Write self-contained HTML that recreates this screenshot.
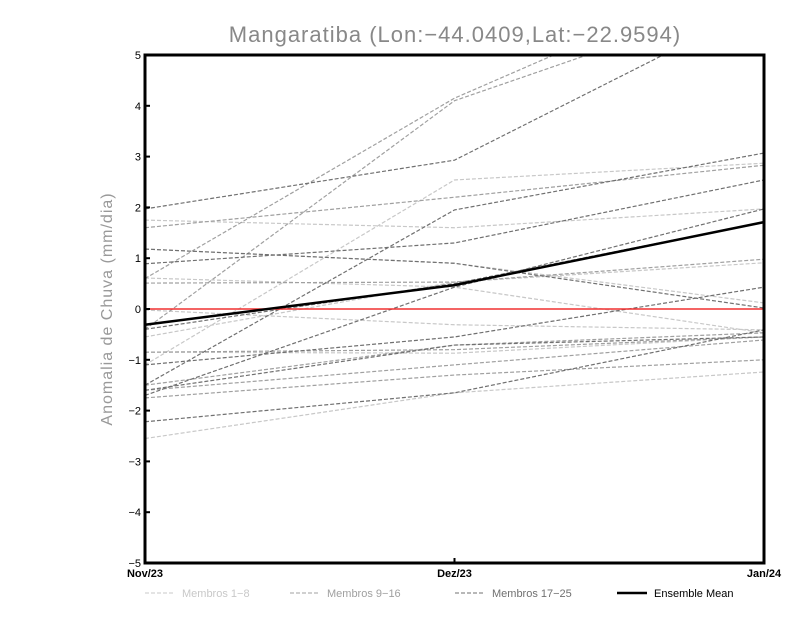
<!DOCTYPE html>
<html><head><meta charset="utf-8"><style>
body{margin:0;background:#fff;}
svg{display:block;font-family:"Liberation Sans",sans-serif;}
</style></head><body>
<svg id="chart" width="800" height="618" viewBox="0 0 800 618">
<text x="455" y="42" text-anchor="middle" font-size="22" fill="#888" letter-spacing="1">Mangaratiba (Lon:−44.0409,Lat:−22.9594)</text>
<text transform="translate(112,309) rotate(-90)" text-anchor="middle" font-size="16" fill="#999" letter-spacing="1">Anomalia de Chuva (mm/dia)</text>
<defs><clipPath id="pc"><rect x="145" y="55" width="619" height="508"/></clipPath></defs>
<g id="members" clip-path="url(#pc)"></g>
<g id="axes"></g>
<g id="legend"></g>
</svg>
<script>
const categories=["Nov/23","Dez/23","Jan/24"];
const yTicks=[-5,-4,-3,-2,-1,0,1,2,3,4,5];
const m1_8=[[1.75,1.6,1.97],[-0.02,-0.31,-0.41],[-0.55,0.53,0.91],[-1.1,2.54,2.87],[1.18,0.9,0.12],[-2.55,-1.65,-1.24],[-0.85,-0.87,-0.55],[0.61,0.43,-0.47]];
const m9_16=[[0.6,4.15,6.8],[-0.4,4.1,6.2],[1.6,2.2,2.83],[0.51,0.53,0.98],[-1.6,-1.1,-0.61],[-1.5,-0.71,-0.47],[-0.85,-0.8,-0.55],[-1.75,-1.3,-1.0]];
const m17_25=[[1.97,2.93,6.0],[0.89,1.3,2.54],[-1.5,1.95,3.07],[-1.7,0.43,1.97],[-1.1,-0.55,0.43],[-2.22,-1.65,-0.41],[1.18,0.9,0.02],[-1.6,-0.71,-0.55],[-0.4,0.5,1.71]];
const ensembleMean=[-0.31,0.47,1.71];
const NS="http://www.w3.org/2000/svg";
const X0=145,X1=764,Y0=563,Y1=55;
function xs(i){return X0+(X1-X0)*i/(categories.length-1);}
function ys(v){return Y0-(v+5)/10*(Y0-Y1);}
function mk(tag,attrs,parent){const e=document.createElementNS(NS,tag);for(const k in attrs)e.setAttribute(k,attrs[k]);parent.appendChild(e);return e;}
const mg=document.getElementById('members');
function drawGroup(arr,color,name){
 arr.forEach((s,j)=>{
  const p=mk('polyline',{points:s.map((v,i)=>xs(i)+','+ys(v)).join(' '),fill:'none',stroke:color,'stroke-width':1.2,'stroke-dasharray':'4,2'},mg);
  
  
 });
}
drawGroup(m1_8,'#c8c8c8','member-1-8');
drawGroup(m9_16,'#a0a0a0','member-9-16');
drawGroup(m17_25,'#707070','member-17-25');
const ax=document.getElementById('axes');
const zl=mk('line',{x1:X0,x2:X1,y1:ys(0),y2:ys(0),stroke:'#f03030','stroke-width':1.5},ax);


const em=mk('polyline',{points:ensembleMean.map((v,i)=>xs(i)+','+ys(v)).join(' '),fill:'none',stroke:'#000','stroke-width':2.5},ax);


const fr=mk('rect',{x:X0,y:Y1,width:X1-X0,height:Y0-Y1,fill:'none',stroke:'#000','stroke-width':3},ax);


yTicks.forEach(t=>{
 mk('line',{x1:X0,x2:X0+5,y1:ys(t),y2:ys(t),stroke:'#000','stroke-width':2},ax);
 const tx=mk('text',{x:X0-4,y:ys(t)+4,'text-anchor':'end','font-size':11,fill:'#000'},ax);
 tx.textContent=t<0?'−'+(-t):String(t);
 
 
});
categories.forEach((c,i)=>{
 mk('line',{x1:xs(i),x2:xs(i),y1:Y0,y2:Y0-5,stroke:'#000','stroke-width':2},ax);
 const tx=mk('text',{x:xs(i),y:Y0+14,'text-anchor':'middle','font-size':11,'font-weight':'bold',fill:'#000'},ax);
 tx.textContent=c;
 
 
});
const lg=document.getElementById('legend');
const legendItems=[['Membros 1−8','#c8c8c8',145,'4,2',1],['Membros 9−16','#a0a0a0',290,'4,2',1],['Membros 17−25','#707070',455,'4,2',1],['Ensemble Mean','#000',617,'',2.5]];
legendItems.forEach(l=>{
 const g=mk('g',{},lg);
 
 
 mk('line',{x1:l[2],x2:l[2]+30,y1:593,y2:593,stroke:l[1],'stroke-width':l[4],'stroke-dasharray':l[3]},g);
 const t=mk('text',{x:l[2]+37,y:597,'font-size':11,fill:l[1]==='#000'?'#000':l[1]},g);
 t.textContent=l[0];
});
</script>
</body></html>
